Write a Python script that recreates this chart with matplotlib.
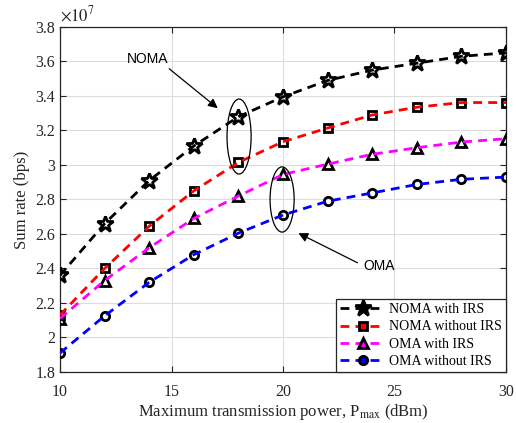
import matplotlib
matplotlib.use("Agg")
import matplotlib.pyplot as plt
from matplotlib.patches import Ellipse
from matplotlib.ticker import FuncFormatter

power = [10, 12, 14, 16, 18, 20, 22, 24, 26, 28, 30]
noma_irs = [2.36, 2.66, 2.91, 3.11, 3.28, 3.395, 3.49, 3.55, 3.59, 3.63, 3.65]
noma_no_irs = [2.13, 2.40, 2.645, 2.85, 3.015, 3.135, 3.214, 3.29, 3.335, 3.362, 3.362]
oma_irs = [2.11, 2.33, 2.52, 2.69, 2.82, 2.945, 3.005, 3.062, 3.10, 3.133, 3.152]
oma_no_irs = [1.91, 2.125, 2.32, 2.48, 2.605, 2.71, 2.79, 2.838, 2.887, 2.917, 2.93]
scale = 1e7
labels = ["NOMA with IRS", "NOMA without IRS", "OMA with IRS", "OMA without IRS"]
colors = ["black", "red", "magenta", "blue"]
markers = ["*", "s", "^", "o"]
msizes = [12, 5.2, 6.5, 6]

plt.rcParams["mathtext.fontset"] = "stix"

fig = plt.figure(figsize=(5.16, 4.23), dpi=100)
ax = fig.add_axes([0.1163, 0.1206, 0.8643, 0.8156])

serif = ["Liberation Serif", "DejaVu Serif"]
sans = ["Liberation Sans", "DejaVu Sans"]

for vals, lab, c, m, ms in zip([noma_irs, noma_no_irs, oma_irs, oma_no_irs], labels, colors, markers, msizes):
    y = [v * scale for v in vals]
    ax.plot(power, y, linestyle="none", marker=m, ms=ms, mfc="none", mec="black", mew=2.0, zorder=3)
    ax.plot(power, y, linestyle=(0, (3.2, 2.2)), color=c, lw=2.0, zorder=4)
    ax.plot([], [], linestyle=(0, (3.2, 2.2)), color=c, lw=2.0, marker=m, ms=ms,
            mfc=c, mec="black", mew=2.0, label=lab)

ax.set_xlim(10, 30)
ax.set_ylim(1.8e7, 3.8e7)
ax.set_xticks([10, 15, 20, 25, 30])
ax.set_yticks([v * 1e7 for v in [1.8, 2.0, 2.2, 2.4, 2.6, 2.8, 3.0, 3.2, 3.4, 3.6, 3.8]])
ax.yaxis.set_major_formatter(FuncFormatter(lambda v, p: f"{v / 1e7:g}"))
ax.grid(True, color="#dcdcdc", lw=0.8)
ax.set_axisbelow(True)
ax.tick_params(direction="in", top=True, right=True, labelsize=11.5, colors="#262626", length=4)
ax.tick_params(axis="x", pad=9)
for lbl in ax.get_xticklabels() + ax.get_yticklabels():
    lbl.set_family(serif)
for s in ax.spines.values():
    s.set_color("#262626")
    s.set_linewidth(0.9)

ax.set_xlabel(r"Maximum transmission power, P$_{\mathrm{max}}$ (dBm)", family=serif, fontsize=12,
              color="#262626", labelpad=1)
ax.set_ylabel("Sum rate (bps)", family=serif, fontsize=12, color="#262626")
ax.text(0.0, 1.005, r"$\times10^{7}$", transform=ax.transAxes, fontsize=12,
        color="#262626", va="bottom", ha="left")

# ellipses
ax.add_patch(Ellipse((18.03, 3.165e7), 1.08, 0.435e7, fill=False, ec="black", lw=0.9, zorder=5))
ax.add_patch(Ellipse((19.96, 2.80e7), 1.08, 0.378e7, fill=False, ec="black", lw=0.9, zorder=5))

ax.annotate("", xy=(17.17, 3.319e7), xytext=(14.8, 3.568e7),
            arrowprops=dict(arrowstyle="-|>", color="black", lw=0.9, mutation_scale=14))
ax.text(13.95, 3.614e7, "NOMA", family=sans, fontsize=10, ha="center", va="center")
ax.annotate("", xy=(20.58, 2.612e7), xytext=(23.45, 2.426e7),
            arrowprops=dict(arrowstyle="-|>", color="black", lw=0.9, mutation_scale=14))
ax.text(24.3, 2.414e7, "OMA", family=sans, fontsize=10, ha="center", va="center")

leg = ax.legend(loc="lower right", prop={"family": serif, "size": 10}, fancybox=False,
                edgecolor="#262626", framealpha=1, borderpad=0.3, labelspacing=0.3,
                handlelength=3.2, handletextpad=0.3, borderaxespad=0)
leg.get_frame().set_linewidth(0.9)
leg.set_zorder(10)

fig.savefig("out.png", dpi=100)
